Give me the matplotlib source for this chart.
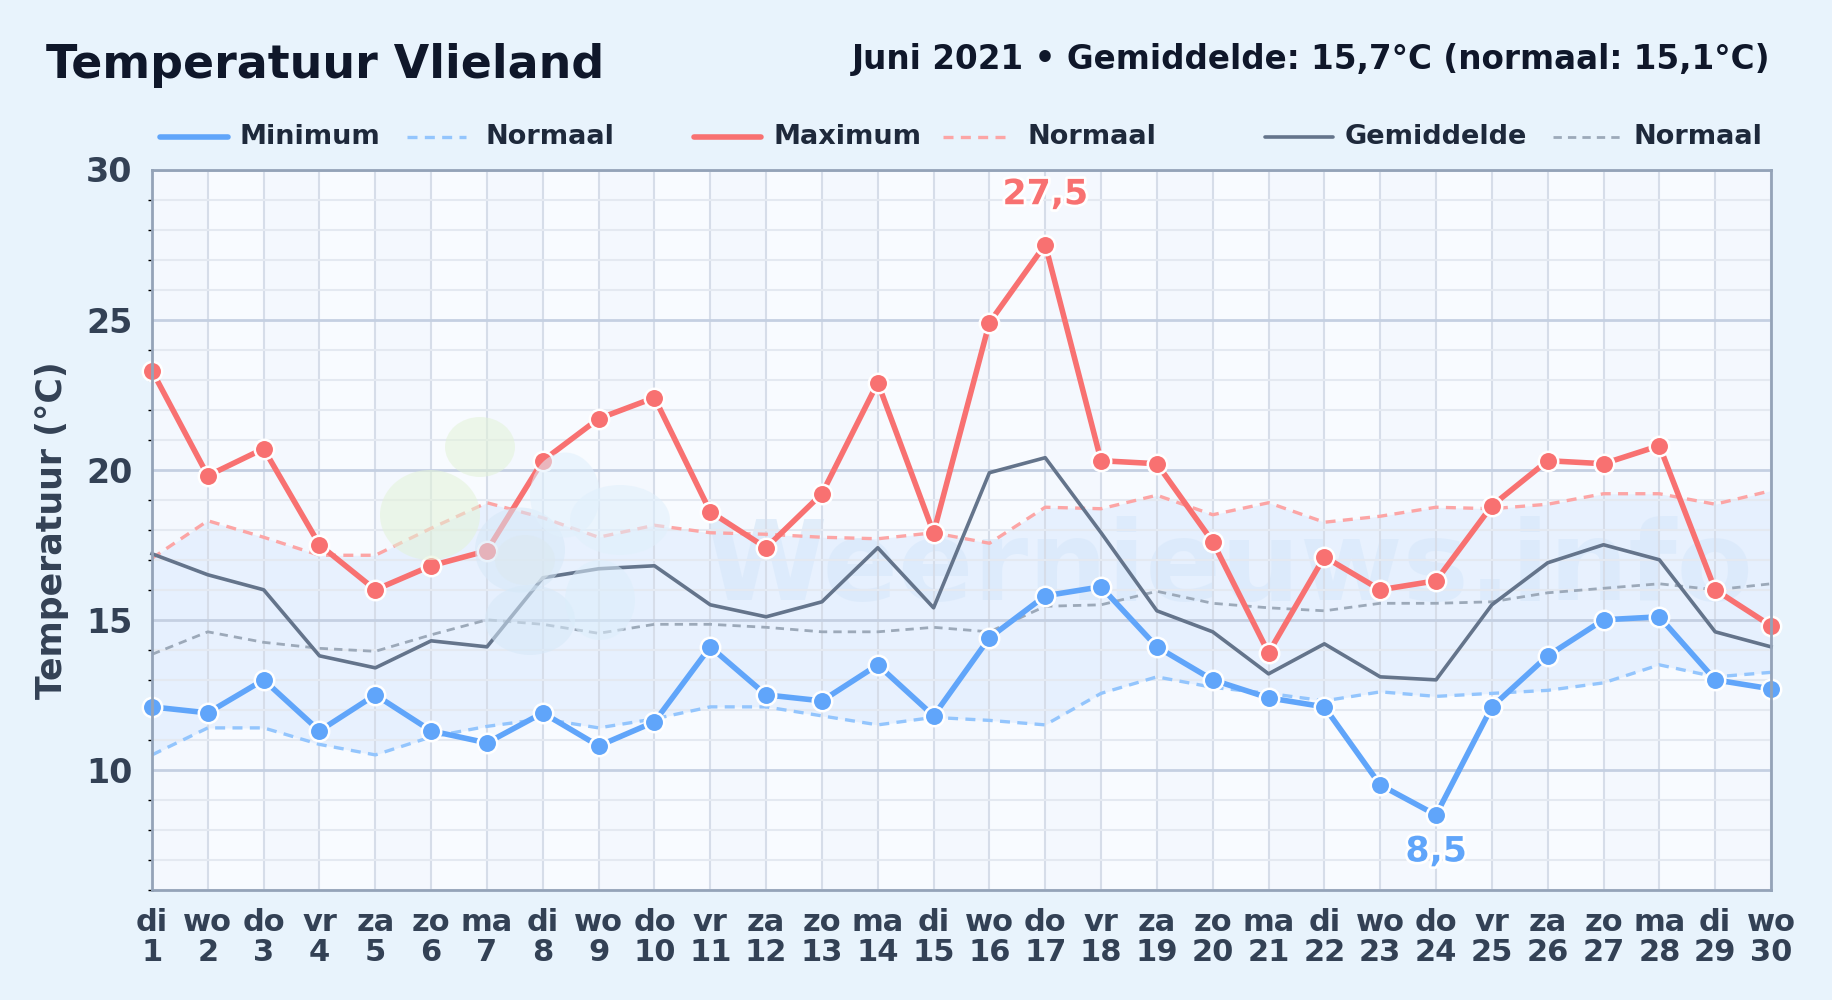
import matplotlib
matplotlib.use("Agg")
import matplotlib.pyplot as plt
import matplotlib.patheffects as pe
from matplotlib.lines import Line2D
from matplotlib.patches import Ellipse
from matplotlib.ticker import MultipleLocator

days = list(range(1, 31))
weekdays = ['di', 'wo', 'do', 'vr', 'za', 'zo', 'ma'] * 4 + ['di', 'wo']
tick_labels = [f"{w}\n{d}" for w, d in zip(weekdays, days)]

t_max = [23.3, 19.8, 20.7, 17.5, 16.0, 16.8, 17.3, 20.3, 21.7, 22.4,
         18.6, 17.4, 19.2, 22.9, 17.9, 24.9, 27.5, 20.3, 20.2, 17.6,
         13.9, 17.1, 16.0, 16.3, 18.8, 20.3, 20.2, 20.8, 16.0, 14.8]
t_min = [12.1, 11.9, 13.0, 11.3, 12.5, 11.3, 10.9, 11.9, 10.8, 11.6,
         14.1, 12.5, 12.3, 13.5, 11.8, 14.4, 15.8, 16.1, 14.1, 13.0,
         12.4, 12.1, 9.5, 8.5, 12.1, 13.8, 15.0, 15.1, 13.0, 12.7]
t_mean = [17.2, 16.5, 16.0, 13.8, 13.4, 14.3, 14.1, 16.4, 16.7, 16.8,
          15.5, 15.1, 15.6, 17.4, 15.4, 19.9, 20.4, 17.9, 15.3, 14.6,
          13.2, 14.2, 13.1, 13.0, 15.5, 16.9, 17.5, 17.0, 14.6, 14.1]
norm_max = [17.05, 18.3, 17.75, 17.15, 17.15, 18.05, 18.9, 18.4, 17.75, 18.15,
            17.9, 17.85, 17.75, 17.7, 17.9, 17.55, 18.75, 18.7, 19.15, 18.5,
            18.9, 18.25, 18.45, 18.75, 18.7, 18.85, 19.2, 19.2, 18.85, 19.3]
norm_min = [10.5, 11.4, 11.4, 10.85, 10.5, 11.1, 11.45, 11.7, 11.4, 11.7,
            12.1, 12.1, 11.8, 11.5, 11.75, 11.65, 11.5, 12.55, 13.1, 12.75,
            12.55, 12.3, 12.6, 12.45, 12.55, 12.65, 12.9, 13.5, 13.1, 13.25]
norm_mean = [13.85, 14.6, 14.25, 14.05, 13.95, 14.5, 15.0, 14.85, 14.55, 14.85,
             14.85, 14.75, 14.6, 14.6, 14.75, 14.6, 15.45, 15.5, 15.95, 15.55,
             15.4, 15.3, 15.55, 15.55, 15.6, 15.9, 16.05, 16.2, 16.0, 16.2]

BLUE = '#60a5fa'
RED = '#f87171'
GREY = '#64748b'
DARK = '#0f172a'
LABEL = '#334155'
W, H = 1832, 1000


def px_x(x):
    return x / W


def px_y(y):
    return 1 - y / H


fig = plt.figure(figsize=(18.32, 10), dpi=100, facecolor='#e8f3fc')
ax = fig.add_axes([px_x(152), px_y(890), px_x(1771) - px_x(152), px_y(169.5) - px_y(890)])
ax.set_facecolor('#f8fbff')

# stripes behind the grid, every other day
for d in days[:-1:2]:
    ax.axvspan(d, d + 1, color='#eaf3fd', alpha=0.25, lw=0, zorder=0)

# logo blobs and name, very faint
blobs = [(480, 447, 70, 60, '#e3f3d8'), (430, 515, 100, 90, '#e3f3d8'), (520, 550, 90, 85, '#d6e8f8'),
         (565, 495, 70, 85, '#e0f0fc'), (620, 520, 100, 70, '#e0f0fc'), (530, 620, 90, 70, '#d6e8f8'),
         (600, 600, 70, 80, '#dceefb'), (525, 560, 60, 50, '#dce9f0')]
for bx, by, bw, bh, bc in blobs:
    fig.add_artist(Ellipse((px_x(bx), px_y(by)), bw / W, bh / H, transform=fig.transFigure,
                           facecolor=bc, edgecolor='none', alpha=0.55, zorder=1.2))
wm = ax.text(0.5, 0.445, 'Weernieuws.info', transform=ax.transAxes, fontsize=80, fontweight='bold',
             color='#cfe3f6', alpha=0.55, ha='left', va='center', zorder=1.3)
wm.set_x((705 - 152) / (1771 - 152))

ax.fill_between(days, norm_min, norm_max, color='#dbeafe', alpha=0.55, lw=0, zorder=1.5)

ax.set_xlim(1, 30)
ax.set_ylim(6, 30)
ax.yaxis.set_major_locator(MultipleLocator(5))
ax.yaxis.set_minor_locator(MultipleLocator(1))
ax.set_xticks(days)
ax.set_xticklabels(tick_labels, fontsize=22, fontweight='bold', color=LABEL, linespacing=1.05)
ax.tick_params(axis='x', length=0, pad=13)
ax.tick_params(axis='y', which='major', length=0, pad=14, labelsize=24, labelcolor=LABEL)
ax.tick_params(axis='y', which='minor', length=3, width=1, color='black')
for lab in ax.get_yticklabels():
    lab.set_fontweight('bold')
ax.grid(axis='y', which='major', color='#c5d0e2', lw=2, zorder=1.6)
ax.grid(axis='y', which='minor', color='#e4e9f1', lw=1.5, zorder=1.6)
ax.grid(axis='x', which='major', color='#d6dde9', lw=1.5, zorder=1.6)
ax.set_axisbelow(False)
for s in ax.spines.values():
    s.set_color('#94a3b8')
    s.set_linewidth(2)
    s.set_zorder(6)
ax.set_ylabel('Temperatuur (°C)', fontsize=25, fontweight='bold', color=LABEL, labelpad=12)

ax.plot(days, norm_min, color='#93c5fd', lw=2.4, dashes=(3, 2.2), zorder=3, clip_on=False)
ax.plot(days, norm_max, color='#fca5a5', lw=2.4, dashes=(3, 2.2), zorder=3, clip_on=False)
ax.plot(days, norm_mean, color='#9ca9b9', lw=2.0, dashes=(3, 2.2), zorder=3, clip_on=False)
ax.plot(days, t_mean, color=GREY, lw=2.6, zorder=3.5, clip_on=False)
for vals, col in ((t_min, BLUE), (t_max, RED)):
    ax.plot(days, vals, color=col, lw=4.0, marker='o', ms=14, mec='white', mew=1.8,
            zorder=4, clip_on=False)

halo = [pe.withStroke(linewidth=4, foreground='white')]
i_hi = t_max.index(max(t_max))
i_lo = t_min.index(min(t_min))
ax.annotate(f"{t_max[i_hi]:.1f}".replace('.', ','), (days[i_hi], t_max[i_hi]), xytext=(0, 24),
            textcoords='offset points', ha='center', va='bottom', fontsize=25, fontweight='bold',
            color=RED, path_effects=halo, zorder=5)
ax.annotate(f"{t_min[i_lo]:.1f}".replace('.', ','), (days[i_lo], t_min[i_lo]), xytext=(0, -14),
            textcoords='offset points', ha='center', va='top', fontsize=25, fontweight='bold',
            color=BLUE, path_effects=halo, zorder=5)

fig.text(px_x(46), px_y(65), 'Temperatuur Vlieland', fontsize=33, fontweight='bold', color=DARK,
         ha='left', va='center')
fig.text(px_x(1770), px_y(60), 'Juni 2021 • Gemiddelde: 15,7°C (normaal: 15,1°C)', fontsize=23.5,
         fontweight='bold', color=DARK, ha='right', va='center')

# legend sits in irregular slots, so place it by hand
legend_items = [
    ('Minimum', 160, 228, 240, BLUE, 4.0, None),
    ('Normaal', 407, 466, 486, '#93c5fd', 2.4, (3, 2.2)),
    ('Maximum', 694, 761, 773, RED, 4.0, None),
    ('Normaal', 943, 1008, 1027, '#fca5a5', 2.4, (3, 2.2)),
    ('Gemiddelde', 1265, 1333, 1345, GREY, 2.6, None),
    ('Normaal', 1553, 1620, 1633, '#9ca9b9', 2.0, (3, 2.2)),
]
for name, x0, x1, xt, col, lw, dash in legend_items:
    ln = Line2D([px_x(x0), px_x(x1)], [px_y(137), px_y(137)], transform=fig.transFigure, color=col,
                lw=lw, solid_capstyle='round')
    if dash:
        ln.set_dashes(dash)
    fig.add_artist(ln)
    fig.text(px_x(xt), px_y(137), name, fontsize=19.5, fontweight='bold', color='#1e293b',
             ha='left', va='center')

fig.savefig('out.png', dpi=100, facecolor=fig.get_facecolor())
